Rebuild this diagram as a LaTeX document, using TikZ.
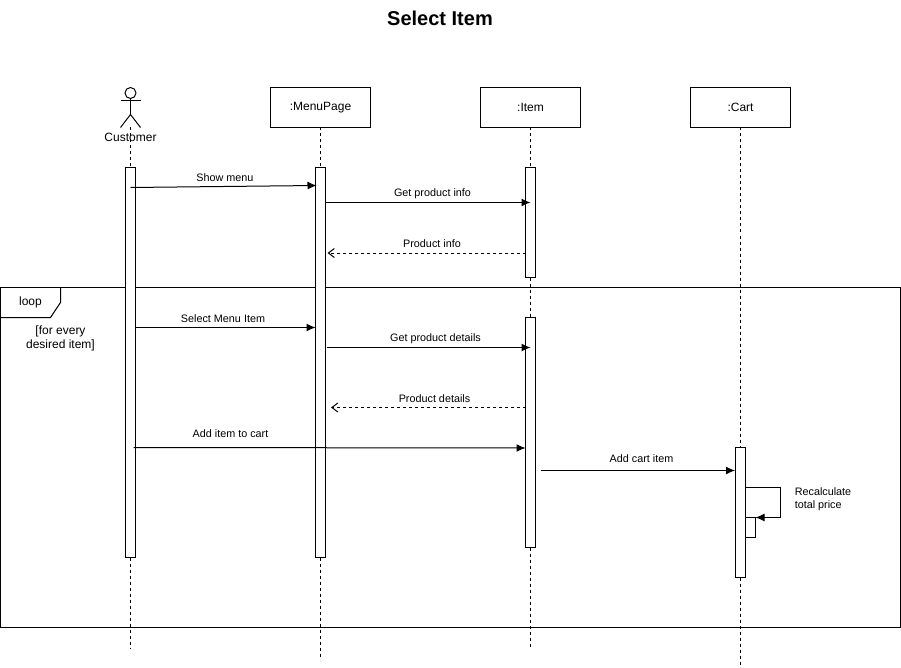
\documentclass[tikz,border=0pt]{standalone}
\usepackage{fontspec}
\setmainfont{Liberation Sans}
\usetikzlibrary{arrows.meta}
\tikzset{
    lifebox/.style={draw, fill=white, minimum width=100pt, minimum height=40pt, inner sep=0pt, outer sep=0pt, font=\fontsize{12}{14}\selectfont},
    bar/.style={draw, fill=white, minimum width=10pt, inner sep=0pt, outer sep=0pt},
    lifeline/.style={dashed, dash pattern=on 3pt off 3pt},
    msg/.style={-{Latex[length=9pt,width=8pt]}},
    reply/.style={lifeline, -{Straight Barb[length=6pt,width=9pt]}},
    msglabel/.style={inner sep=0pt, font=\fontsize{10.8}{13}\selectfont},
    framelabel/.style={inner sep=0pt, font=\fontsize{12}{14}\selectfont},
}
\begin{document}
\begin{tikzpicture}[x=1pt, y=-1pt, shift={(0.5,0.5)}, line width=1pt]
    \useasboundingbox (-0.5,-0.5) rectangle (900.5,667.5);

    \node[inner sep=0pt, font=\fontsize{20}{24}\selectfont\bfseries] (title) at (439.5,18) {Select Item};

    % Loop frame
    \node[draw, minimum width=900pt, minimum height=340pt, inner sep=0pt, outer sep=0pt] (frame) at (450,457) {};
    \draw (frame.north west) ++(60,0) coordinate (tagA) -- ++(0,15) -- ++(-10,15) -- ++(-50,0);
    \node[framelabel] (looptag) at (30,302) {loop};
    \node[framelabel, align=center] (guard) at (60,338) {[for every\\desired item]};

    % Actor
    \node[draw, circle, minimum size=11pt, inner sep=0pt, outer sep=0pt] (head) at (130,92.5) {};
    \coordinate (armL) at (120,100.5);
    \coordinate (armR) at (140,100.5);
    \coordinate (hip) at (130,114);
    \coordinate (legL) at (120,127);
    \coordinate (legR) at (140,127);
    \draw (head.south) -- (hip);
    \draw (armL) -- (armR);
    \draw (legL) -- (hip) -- (legR);

    % Lifeline heads
    \node[lifebox] (menu) at (320,107) {:MenuPage};
    \node[lifebox] (item) at (530,107) {:Item};
    \node[lifebox] (cart) at (740,107) {:Cart};

    % Activation bars
    \node[bar, minimum height=390pt] (barCust) at (130,362) {};
    \node[bar, minimum height=390pt] (barMenu) at (320,362) {};
    \node[bar, minimum height=110pt] (barItemA) at (530,222) {};
    \node[bar, minimum height=230pt] (barItemB) at (530,432) {};
    \node[bar, minimum height=130pt] (barCart) at (740,512) {};
    \node[bar, minimum height=20pt] (barSelf) at (750,527) {};

    % Lifelines
    \coordinate (endCust) at (130,648);
    \coordinate (endMenu) at (320,659);
    \coordinate (endItem) at (530,648);
    \coordinate (endCart) at (740,666);
    \draw[lifeline] (hip |- legL) -- (barCust.north);
    \draw[lifeline] (barCust.south) -- (endCust);
    \draw[lifeline] (menu) -- (barMenu.north);
    \draw[lifeline] (barMenu.south) -- (endMenu);
    \draw[lifeline] (item) -- (barItemA.north);
    \draw[lifeline] (barItemA.south) -- (barItemB.north);
    \draw[lifeline] (barItemB.south) -- (endItem);
    \draw[lifeline] (cart) -- (barCart.north);
    \draw[lifeline] (barCart.south) -- (endCart);
    \node[framelabel] (cust) at (130,136.5) {Customer};

    % Messages before the loop
    \coordinate (showA) at (130,187);
    \coordinate (showB) at (316,185);
    \draw[msg] (showA) -- (showB);
    \node[msglabel] (showL) at (224.5,177) {Show menu};

    \coordinate (infoA) at (325,202);
    \coordinate (infoB) at (530,202);
    \draw[msg] (infoA) -- (infoB);
    \node[msglabel] (infoL) at (432,193) {Get product info};

    \coordinate (backA) at (525,252.5);
    \coordinate (backB) at (327,252.5);
    \draw[reply] (backA) -- (backB);
    \node[msglabel] (backL) at (431.5,243) {Product info};

    % Messages in the loop
    \coordinate (selA) at (135,327);
    \coordinate (selB) at (315,327);
    \draw[msg] (selA) -- (selB);
    \node[msglabel] (selL) at (222.5,318) {Select Menu Item};

    \coordinate (detA) at (326.5,347);
    \coordinate (detB) at (530,347);
    \draw[msg] (detA) -- (detB);
    \node[msglabel] (detL) at (435,338) {Get product details};

    \coordinate (retA) at (525,407);
    \coordinate (retB) at (330.5,407);
    \draw[reply] (retA) -- (retB);
    \node[msglabel] (retL) at (434,398) {Product details};

    \coordinate (addA) at (133,447);
    \coordinate (addB) at (525,447.5);
    \draw[msg] (addA) -- (addB);
    \node[msglabel] (addL) at (230,433.5) {Add item to cart};

    \coordinate (cartA) at (540,470);
    \coordinate (cartB) at (734.5,470);
    \draw[msg] (cartA) -- (cartB);
    \node[msglabel] (cartL) at (641,458) {Add cart item};

    % Self call on the cart
    \coordinate (selfA) at (745,487);
    \draw[msg] (selfA) -| (780,517) -- (barSelf.north east);
    \node[msglabel, align=left] (selfL) at (822.5,498.5) {Recalculate\\total price};
\end{tikzpicture}
\end{document}
